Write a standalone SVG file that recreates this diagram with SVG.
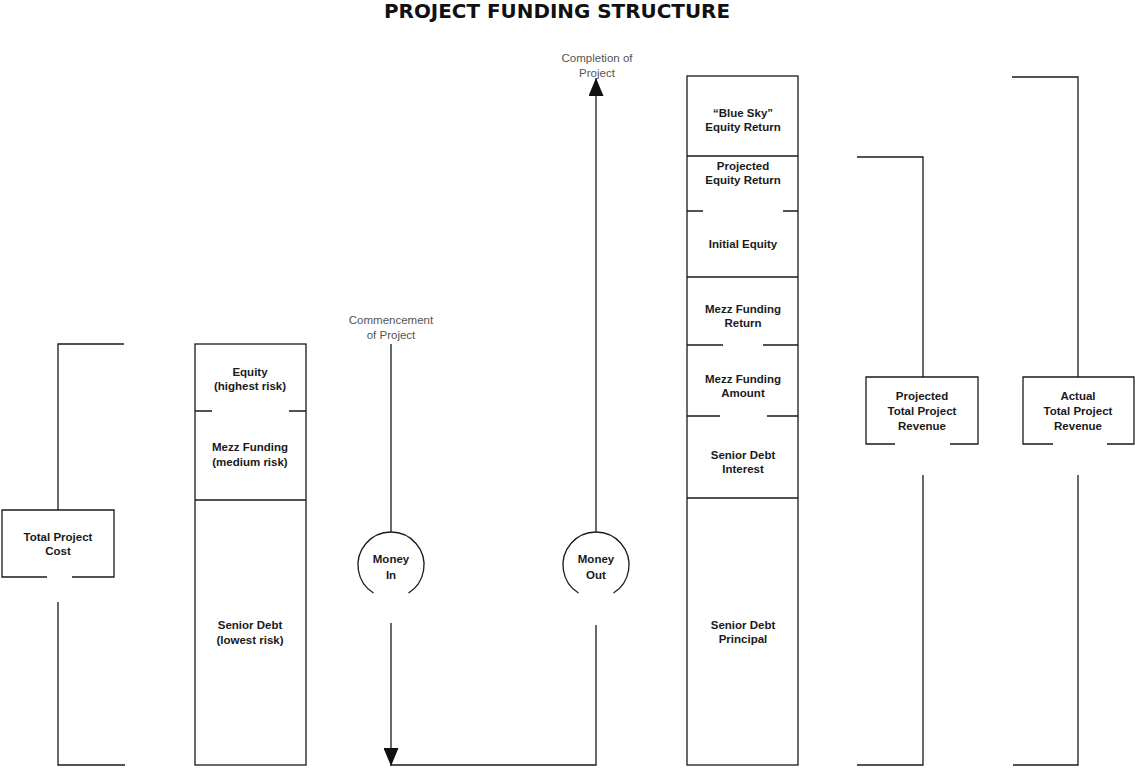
<svg xmlns="http://www.w3.org/2000/svg" width="1135" height="770" viewBox="0 0 1135 770">
<defs>
<style>
.ln{stroke:#1a1a1a;stroke-width:1.3;fill:none}
.lb{font-family:"Liberation Sans",Arial,sans-serif;font-size:11.5px;font-weight:bold;fill:#1a1a1a;text-anchor:middle}
.gl{font-family:"Liberation Sans",Arial,sans-serif;font-size:11.5px;fill:#555;text-anchor:middle}
.tt{font-family:"DejaVu Sans",sans-serif;font-size:19px;font-weight:bold;fill:#111}
</style>
<marker id="arr" viewBox="0 0 18 15" refX="18" refY="7.5" markerWidth="18" markerHeight="15" markerUnits="userSpaceOnUse" orient="auto">
<path d="M0,0 L18,7.5 L0,15 Z" fill="#111"/>
</marker>
</defs>
<rect width="1135" height="770" fill="#fff"/>
<text class="tt" x="384" y="18" textLength="346" lengthAdjust="spacingAndGlyphs">PROJECT FUNDING STRUCTURE</text>

<g id="connectors">
<path class="ln" d="M124,344 H58 V510 M58,602 V765 H125"/>
<path class="ln" d="M857,157 H923 V377 M923,475 V765 H857"/>
<path class="ln" d="M1012,77 H1078 V377 M1078,475 V765 H1013"/>
<line class="ln" x1="391" y1="344" x2="391" y2="532"/>
<line class="ln" x1="391" y1="623" x2="391" y2="766" marker-end="url(#arr)"/>
<path class="ln" d="M391,765 H596 V625"/>
<line class="ln" x1="596" y1="532" x2="596" y2="78" marker-end="url(#arr)"/>
</g>

<g id="total-project-cost">
<path class="ln" d="M72,577 H114 V510 H2 V577 H47"/>
<text class="lb" x="58" y="541">Total Project</text>
<text class="lb" x="58" y="555">Cost</text>
</g>

<g id="left-stack">
<rect class="ln" x="195" y="344" width="111" height="421"/>
<path class="ln" d="M195,411 H212 M289,411 H306 M195,500 H306"/>
</g>
<g id="equity">
<text class="lb" x="250" y="376">Equity</text>
<text class="lb" x="250" y="390">(highest risk)</text>
</g>
<g id="mezz-funding">
<text class="lb" x="250" y="451">Mezz Funding</text>
<text class="lb" x="250" y="466">(medium risk)</text>
</g>
<g id="senior-debt">
<text class="lb" x="250" y="629">Senior Debt</text>
<text class="lb" x="250" y="644">(lowest risk)</text>
</g>

<g id="commencement">
<text class="gl" x="391" y="324">Commencement</text>
<text class="gl" x="391" y="339">of Project</text>
</g>
<g id="completion">
<text class="gl" x="597" y="62">Completion of</text>
<text class="gl" x="597" y="77">Project</text>
</g>

<g id="money-in">
<path class="ln" d="M373.5,593 A33,33 0 1 1 408.5,593"/>
<text class="lb" x="391" y="563">Money</text>
<text class="lb" x="391" y="579">In</text>
</g>
<g id="money-out">
<path class="ln" d="M578.5,593 A33,33 0 1 1 613.5,593"/>
<text class="lb" x="596" y="563">Money</text>
<text class="lb" x="596" y="579">Out</text>
</g>

<g id="right-stack">
<rect class="ln" x="687" y="76" width="111" height="689"/>
<path class="ln" d="M687,156 H798 M687,211 H703 M783,211 H798 M687,277 H798 M687,345 H723 M763,345 H798 M687,416 H720 M767,416 H798 M687,498 H798"/>
</g>
<g id="blue-sky">
<text class="lb" x="743" y="117">“Blue Sky”</text>
<text class="lb" x="743" y="131">Equity Return</text>
</g>
<g id="projected-equity-return">
<text class="lb" x="743" y="170">Projected</text>
<text class="lb" x="743" y="184">Equity Return</text>
</g>
<g id="initial-equity">
<text class="lb" x="743" y="248">Initial Equity</text>
</g>
<g id="mezz-funding-return">
<text class="lb" x="743" y="313">Mezz Funding</text>
<text class="lb" x="743" y="327">Return</text>
</g>
<g id="mezz-funding-amount">
<text class="lb" x="743" y="383">Mezz Funding</text>
<text class="lb" x="743" y="397">Amount</text>
</g>
<g id="senior-debt-interest">
<text class="lb" x="743" y="459">Senior Debt</text>
<text class="lb" x="743" y="473">Interest</text>
</g>
<g id="senior-debt-principal">
<text class="lb" x="743" y="629">Senior Debt</text>
<text class="lb" x="743" y="643">Principal</text>
</g>

<g id="projected-revenue">
<path class="ln" d="M950,444 H978 V377 H866 V444 H895"/>
<text class="lb" x="922" y="400">Projected</text>
<text class="lb" x="922" y="415">Total Project</text>
<text class="lb" x="922" y="430">Revenue</text>
</g>
<g id="actual-revenue">
<path class="ln" d="M1107,444 H1134 V377 H1023 V444 H1053"/>
<text class="lb" x="1078" y="400">Actual</text>
<text class="lb" x="1078" y="415">Total Project</text>
<text class="lb" x="1078" y="430">Revenue</text>
</g>
</svg>
